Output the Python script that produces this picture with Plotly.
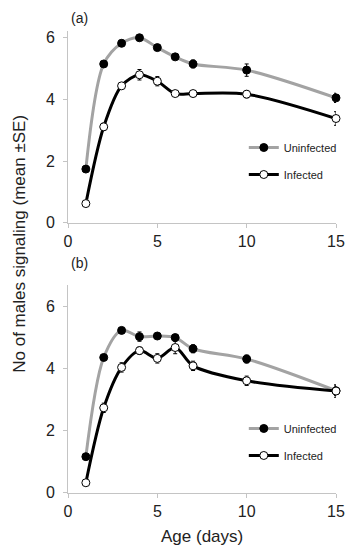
import plotly.graph_objects as go

age = [1, 2, 3, 4, 5, 6, 7, 10, 15]

a_uninf = [1.74, 5.15, 5.82, 6.0, 5.68, 5.38, 5.15, 4.95, 4.05]
a_uninf_se = [0.08, 0.08, 0.1, 0.08, 0.07, 0.08, 0.13, 0.2, 0.15]
a_inf = [0.62, 3.11, 4.44, 4.8, 4.59, 4.19, 4.19, 4.17, 3.38]
a_inf_se = [0.05, 0.12, 0.1, 0.17, 0.15, 0.08, 0.1, 0.12, 0.22]

b_uninf = [1.16, 4.35, 5.22, 5.02, 5.04, 4.99, 4.63, 4.3, 3.28]
b_uninf_se = [0.05, 0.08, 0.08, 0.15, 0.08, 0.1, 0.13, 0.13, 0.15]
b_inf = [0.32, 2.73, 4.03, 4.57, 4.32, 4.67, 4.08, 3.6, 3.27]
b_inf_se = [0.05, 0.15, 0.15, 0.12, 0.15, 0.2, 0.15, 0.15, 0.2]

x_ticks = [0, 5, 10, 15]
y_ticks = [0, 2, 4, 6]

GREY = "#a3a3a3"
AX = "#c4c4c4"
FONT = "Liberation Sans, Arial, sans-serif"

fig = go.Figure()

def add(x, y, se, name, color, fill, xa, ya, leg, group):
    fig.add_trace(go.Scatter(
        x=x, y=y, name=name, mode="lines+markers",
        line=dict(color=color, width=3, shape="spline", smoothing=0.9),
        marker=dict(size=8, color=fill, line=dict(color="black", width=1)),
        error_y=dict(type="data", array=se, color="black", thickness=1, width=2),
        xaxis=xa, yaxis=ya, legend=leg, legendgroup=group, cliponaxis=False,
    ))

add(age, a_uninf, a_uninf_se, "Uninfected", GREY, "black", "x", "y", "legend", "u")
add(age, a_inf, a_inf_se, "Infected", "black", "white", "x", "y", "legend", "i")
add(age, b_uninf, b_uninf_se, "Uninfected", GREY, "black", "x2", "y2", "legend2", "u")
add(age, b_inf, b_inf_se, "Infected", "black", "white", "x2", "y2", "legend2", "i")

ax_common = dict(showgrid=False, zeroline=False, showline=True, linecolor=AX, linewidth=1,
                 ticks="outside", ticklen=4, tickcolor=AX,
                 tickfont=dict(size=16, color="#222", family=FONT))

W, H = 349, 542

fig.update_layout(
    width=W, height=H,
    margin=dict(l=60.3, r=21, t=0, b=0, autoexpand=False),
    paper_bgcolor="white", plot_bgcolor="white",
    font=dict(family=FONT, color="#222"),
    xaxis=dict(range=[0, 15], tickvals=x_ticks, anchor="y", domain=[0, 1], **ax_common),
    yaxis=dict(range=[0, 6.22], tickvals=y_ticks, anchor="x", domain=[0.6039, 0.9576],
               ticklabelstandoff=5, **ax_common),
    xaxis2=dict(range=[0, 15], tickvals=x_ticks, anchor="y2", domain=[0, 1], **ax_common),
    yaxis2=dict(range=[0, 6.68], tickvals=y_ticks, anchor="x2", domain=[0.1057, 0.4889],
                ticklabelstandoff=5, **ax_common),
    legend=dict(x=0.656, y=0.7177, xanchor="left", yanchor="middle", traceorder="grouped",
                tracegroupgap=8, font=dict(size=11, color="#222", family=FONT),
                bgcolor="rgba(0,0,0,0)"),
    legend2=dict(x=0.656, y=0.1993, xanchor="left", yanchor="middle", traceorder="grouped",
                 tracegroupgap=8, font=dict(size=11, color="#222", family=FONT),
                 bgcolor="rgba(0,0,0,0)"),
    annotations=[
        dict(text="(a)", x=0.0437, y=0.9815, xref="paper", yref="paper", showarrow=False,
             xanchor="center", yanchor="middle", font=dict(size=14, color="#222")),
        dict(text="(b)", x=0.0437, y=0.5295, xref="paper", yref="paper", showarrow=False,
             xanchor="center", yanchor="middle", font=dict(size=14, color="#222")),
        dict(text="Age (days)", x=0.4995, y=0.024, xref="paper", yref="paper", showarrow=False,
             xanchor="center", yanchor="middle", font=dict(size=17, color="#222")),
        dict(text="No of males signaling (mean ±SE)", x=-0.18, y=0.5646,
             xref="paper", yref="paper", showarrow=False, textangle=-90,
             xanchor="center", yanchor="middle", font=dict(size=17, color="#222")),
    ],
)

fig.write_html("out.html")
